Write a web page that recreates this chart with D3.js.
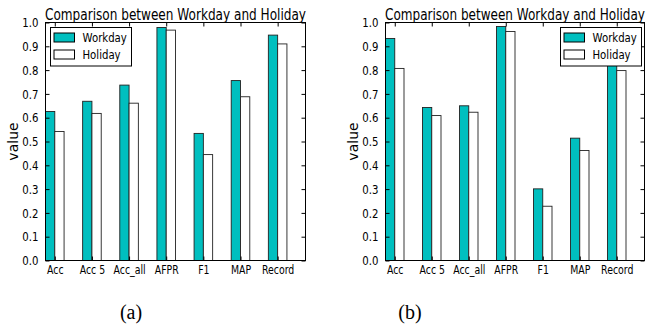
<!DOCTYPE html>
<html>
<head>
<meta charset="utf-8">
<script src="https://cdn.jsdelivr.net/npm/d3@7"></script>
<style>
  body { margin: 0; background: #fff; }
  svg { display: block; }
  text { font-family: "DejaVu Sans", sans-serif; fill: #000; }
</style>
</head>
<body>
<script>
// datos
var categorias = ["Acc", "Acc 5", "Acc_all", "AFPR", "F1", "MAP", "Record"]
var series = ["Workday", "Holiday"]
var workdayA = [0.626, 0.669, 0.737, 0.979, 0.534, 0.756, 0.947]
var holidayA = [0.542, 0.618, 0.661, 0.968, 0.445, 0.688, 0.910]
var workdayB = [0.933, 0.643, 0.650, 0.983, 0.301, 0.514, 0.860]
var holidayB = [0.807, 0.609, 0.623, 0.962, 0.228, 0.462, 0.798]
var yTicks = [0, 0.1, 0.2, 0.3, 0.4, 0.5, 0.6, 0.7, 0.8, 0.9, 1.0]
var titulo = "Comparison between Workday and Holiday"

var width = 646
var height = 329
var colores = ["#00bfbf", "#ffffff"]
var squash = 0.78  // la figura original esta comprimida en horizontal

var svg = d3.select("body")
    .append("svg")
    .attr("width", width)
    .attr("height", height)

// comprime el texto en horizontal
function apretar(sel) {
    sel.each(function() {
        var l = this.getComputedTextLength()
        d3.select(this).attr("textLength", l * squash).attr("lengthAdjust", "spacingAndGlyphs")
    })
}

function panel(x0, x1, datosW, datosH, legendX, caption, captionX) {
    var top = 22.5, bottom = 260.5

    var escalaX = d3.scaleLinear().domain([0, 7]).range([x0, x1])
    var escalaY = d3.scaleLinear().domain([0, 1]).range([bottom, top])

    var g = svg.append("g")

    // barras
    var grupos = [datosW, datosH]
    grupos.forEach(function(datos, s) {
        g.selectAll(".bar" + s)
            .data(datos)
            .enter()
            .append("rect")
            .attr("x", (d, i) => escalaX(i + 0.25 * s))
            .attr("width", escalaX(0.25) - escalaX(0))
            .attr("y", d => escalaY(d))
            .attr("height", d => bottom - escalaY(d))
            .attr("fill", colores[s])
            .attr("stroke", "#222")
            .attr("stroke-width", 0.9)
    })

    // ejes: ticks hacia dentro en los cuatro lados
    var ejeY = d3.axisLeft(escalaY).tickValues(yTicks).tickFormat(d3.format(".1f")).tickSizeInner(-4).tickSizeOuter(0).tickPadding(7)
    var ejeYR = d3.axisRight(escalaY).tickValues(yTicks).tickFormat("").tickSizeInner(-4).tickSizeOuter(0)
    var ejeX = d3.axisBottom(escalaX).tickValues(d3.range(7).map(i => i + 0.25))
        .tickFormat((d, i) => categorias[i]).tickSizeInner(-4).tickSizeOuter(0).tickPadding(4)
    var ejeXT = d3.axisTop(escalaX).tickValues(d3.range(7).map(i => i + 0.25)).tickFormat("").tickSizeInner(-4).tickSizeOuter(0)

    var gy = g.append("g").attr("transform", "translate(" + x0 + ",0)").call(ejeY)
    gy.selectAll("text").style("font-size", "13px").call(apretar)
    g.append("g").attr("transform", "translate(" + x1 + ",0)").call(ejeYR)
    var gx = g.append("g").attr("transform", "translate(0," + bottom + ")").call(ejeX)
    gx.selectAll("text").style("font-size", "12px").attr("dy", "0.75em").call(apretar)
    g.append("g").attr("transform", "translate(0," + top + ")").call(ejeXT)
    g.selectAll(".domain").remove()
    g.selectAll(".tick line").attr("stroke", "#000")

    // marco
    g.append("rect")
        .attr("x", x0).attr("y", top)
        .attr("width", x1 - x0).attr("height", bottom - top)
        .attr("fill", "none").attr("stroke", "#000").attr("stroke-width", 1)

    // titulo (ocupa todo el ancho del grafico)
    g.append("text")
        .attr("x", (x0 + x1) / 2).attr("y", top - 3)
        .attr("text-anchor", "middle")
        .style("font-size", "16px")
        .attr("textLength", x1 - x0 + 1)
        .attr("lengthAdjust", "spacingAndGlyphs")
        .text(titulo)

    // etiqueta eje y
    g.append("text")
        .attr("transform", "translate(" + (x0 - 28) + "," + ((top + bottom) / 2) + ") rotate(-90)")
        .attr("text-anchor", "middle")
        .style("font-size", "14px")
        .text("value")

    // leyenda
    var ley = g.append("g").attr("transform", "translate(" + legendX + ",27.5)")
    ley.append("rect")
        .attr("width", 81).attr("height", 38.5)
        .attr("fill", "#fff").attr("stroke", "#000").attr("stroke-width", 1)
    series.forEach(function(nombre, s) {
        ley.append("rect")
            .attr("x", 3.5).attr("y", 5.5 + s * 17)
            .attr("width", 20.5).attr("height", 9)
            .attr("fill", colores[s]).attr("stroke", "#000").attr("stroke-width", 1)
        ley.append("text")
            .attr("x", 32).attr("y", 10 + s * 17)
            .attr("dy", "0.36em")
            .style("font-size", "13px")
            .text(nombre)
            .call(apretar)
    })

    // pie (a)/(b)
    svg.append("text")
        .attr("x", captionX).attr("y", 319)
        .attr("text-anchor", "middle")
        .style("font-family", "'Liberation Serif', serif")
        .style("font-size", "20px")
        .text(caption)
}

panel(45.5, 305.5, workdayA, holidayA, 50.5, "(a)", 131)
panel(385.5, 644.5, workdayB, holidayB, 560.5, "(b)", 410)
</script>
</body>
</html>
